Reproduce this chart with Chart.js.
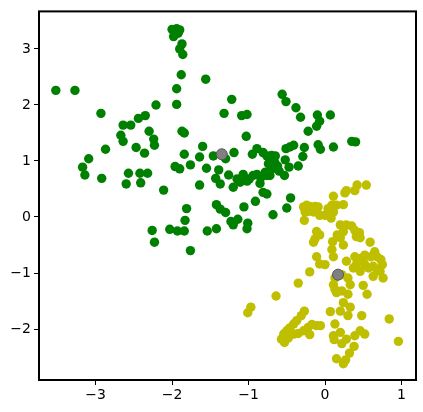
<!DOCTYPE html>
<html>
<head>
<meta charset="utf-8">
<script src="https://cdn.jsdelivr.net/npm/chart.js@4"></script>
<style>
  html, body { margin: 0; padding: 0; background: #fff; }
  #wrap { width: 423px; height: 412px; }
</style>
</head>
<body>
<div id="wrap"><canvas id="myChart" width="423" height="412"></canvas></div>
<script>
const greenX = [-2.00, -1.94, -1.90, -1.98, -1.92, -1.96, -1.87, -1.90, -1.86, -1.88, -1.56, -3.52, -3.27, -1.94, -1.94,
  -2.21, -2.93, -1.22, -1.32, -1.09, -1.02, -0.56, -0.51, -0.38, -0.32, -0.10, 0.07, -0.07, -0.11, -0.22,
  -2.64, -2.54, -2.44, -2.35, -2.67, -2.64, -2.30, -2.24, -2.23, -2.47, -2.36, -2.87, -3.09, -3.17, -3.14,
  -2.92, -2.57, -2.60, -2.42, -2.32, -2.41, -2.11, -1.87, -1.84, -1.84, -1.96, -1.90, -1.76, -1.64, -1.64,
  -1.60, -1.55, -1.46, -1.03, -1.19, -1.39, -1.43, -1.37, -1.30, -1.26, -1.20, -1.11, -1.07, -0.99, -0.94,
  -0.89, -0.95, -0.89, -0.81, -0.76, -0.72, -0.68, -0.70, -0.72, -0.76, -0.65, -0.62, -0.52, -0.51, -0.46,
  -0.41, -0.47, -0.53, -0.35, -0.29, -0.27, -0.09, -0.06, 0.11, 0.35, 0.40, -0.45, -0.50, -0.68, -0.81,
  -0.76, -0.91, -1.06, -1.42, -1.37, -1.30, -1.23, -1.20, -1.14, -1.01, -1.02, -1.42, -1.54, -1.81, -1.83,
  -2.03, -1.93, -1.84, -1.76, -2.26, -2.23, -0.84, -0.78, -0.74, -0.70, -0.66, -0.60, -1.02, -0.85, -1.15];
const greenY = [3.35, 3.36, 3.34, 3.22, 3.28, 3.30, 3.09, 3.00, 2.90, 2.54, 2.46, 2.26, 2.26, 2.29, 2.01,
  2.00, 1.85, 2.10, 1.85, 1.81, 1.83, 2.19, 2.06, 1.95, 1.78, 1.82, 1.82, 1.71, 1.62, 1.53,
  1.64, 1.64, 1.76, 1.81, 1.46, 1.35, 1.53, 1.39, 1.28, 1.24, 1.14, 1.21, 1.04, 0.89, 0.75,
  0.69, 0.78, 0.59, 0.78, 0.78, 0.61, 0.48, 1.53, 1.50, 1.12, 0.90, 0.86, 0.93, 0.57, 1.07,
  1.26, 0.87, 1.09, 1.44, 1.15, 0.84, 0.69, 0.59, 1.04, 0.75, 0.53, 0.62, 0.76, 0.68, 0.74,
  0.76, 1.12, 1.22, 1.15, 1.09, 1.03, 0.97, 0.85, 0.74, 0.74, 1.09, 0.91, 1.02, 1.22, 1.25,
  1.28, 0.89, 0.74, 0.91, 1.08, 1.24, 1.29, 1.21, 1.25, 1.35, 1.34, 0.34, 0.16, 0.04, 0.44,
  0.41, 0.28, 0.18, 0.22, 0.14, 0.08, -0.08, -0.14, -0.04, -0.11, -0.21, -0.21, -0.25, 0.15, -0.06,
  -0.22, -0.25, -0.25, -0.60, -0.24, -0.45, 0.70, 0.80, 0.95, 1.10, 0.98, 0.82, 0.64, 0.60, 0.68];

const yellowX = [0.54, 0.42, 0.39, 0.28, 0.26, 0.11, 0.24, 0.15, 0.09, 0.04, 0.11, -0.28, -0.24, -0.20, -0.13,
  -0.09, -0.26, -0.22, -0.15, -0.07, 0.00, 0.08, -0.27, 0.20, 0.28, 0.35, 0.39, 0.45, 0.41, 0.46,
  0.59, 0.24, 0.16, 0.20, 0.10, 0.09, 0.24, -0.11, -0.07, -0.13, -0.15, 0.11, -0.11, -0.07, 0.00,
  0.28, 0.39, 0.46, 0.52, 0.60, 0.65, 0.68, 0.73, 0.75, 0.76, 0.72, 0.41, 0.46, 0.52, 0.57,
  0.63, 0.68, 0.37, 0.50, 0.63, -0.20, 0.13, 0.22, 0.30, 0.33, 0.11, 0.13, 0.15, 0.22, 0.30,
  0.50, 0.55, -0.35, -0.64, -0.97, -1.01, 0.24, 0.33, 0.20, 0.07, 0.30, 0.48, 0.84, -0.27, -0.31,
  -0.37, -0.41, -0.46, -0.50, -0.54, -0.57, -0.53, -0.48, -0.41, -0.35, -0.28, -0.22, -0.17, -0.11, -0.06,
  -0.20, 0.13, 0.11, 0.12, 0.20, 0.28, 0.22, 0.39, 0.46, 0.52, 0.38, 0.32, 0.27, 0.24, 0.15, 0.96];
const yellowY = [0.57, 0.57, 0.47, 0.47, 0.43, 0.37, 0.22, 0.21, 0.21, 0.15, 0.09, 0.18, 0.21, 0.19, 0.19,
  0.18, 0.09, 0.10, 0.09, 0.03, 0.03, -0.02, -0.06, -0.14, -0.14, -0.16, -0.24, -0.28, -0.35, -0.37,
  -0.45, -0.26, -0.32, -0.37, -0.44, -0.58, -0.50, -0.26, -0.32, -0.39, -0.45, -0.71, -0.71, -0.84, -0.85,
  -0.79, -0.71, -0.74, -0.68, -0.71, -0.62, -0.71, -0.76, -0.85, -1.09, -0.97, -0.85, -0.97, -0.85, -0.91,
  -0.88, -0.94, -0.91, -0.79, -1.06, -0.98, -1.09, -1.03, -1.09, -1.21, -1.21, -1.29, -1.35, -1.32, -1.38,
  -1.22, -1.38, -1.18, -1.41, -1.61, -1.71, -1.53, -1.61, -1.68, -1.69, -1.76, -1.76, -1.82, -1.68, -1.76,
  -1.85, -1.91, -1.98, -2.03, -2.09, -2.18, -2.24, -2.16, -2.09, -2.08, -2.03, -1.97, -1.92, -1.94, -1.94,
  -2.10, -1.91, -2.12, -2.19, -2.06, -2.18, -2.26, -2.12, -2.03, -2.09, -2.31, -2.43, -2.55, -2.62, -2.53, -2.22];

const centerX = [-1.35, 0.17];
const centerY = [1.12, -1.03];

const xTicks = [-3, -2, -1, 0, 1];
const yTicks = [-2, -1, 0, 1, 2, 3];

function pairs(xs, ys) {
  return xs.map((x, i) => ({ x: x, y: ys[i] }));
}

function fmt(v) {
  return v < 0 ? "\u2212" + Math.abs(v) : String(v);
}

// matplotlib style box round the plot area
const frame = {
  id: "frame",
  afterDraw(chart) {
    const a = chart.chartArea;
    const ctx = chart.ctx;
    ctx.save();
    ctx.strokeStyle = "#000";
    ctx.lineWidth = 2;
    ctx.strokeRect(a.left, a.top, a.right - a.left, a.bottom - a.top);
    ctx.restore();
  }
};

const data = {
  datasets: [
    {
      label: "centers",
      data: pairs(centerX, centerY),
      backgroundColor: "#808080",
      borderColor: "#555555",
      borderWidth: 1,
      pointRadius: 5.5,
    },
    {
      label: "cluster 0",
      data: pairs(yellowX, yellowY),
      backgroundColor: "#bfbf00",
      borderColor: "#bfbf00",
      borderWidth: 0,
      pointRadius: 4.7,
    },
    {
      label: "cluster 1",
      data: pairs(greenX, greenY),
      backgroundColor: "#008000",
      borderColor: "#008000",
      borderWidth: 0,
      pointRadius: 4.7,
    },
  ],
};

const tickFont = { family: "DejaVu Sans", size: 14 };

const options = {
  responsive: false,
  animation: false,
  layout: { padding: { top: 7, right: 7, left: 0, bottom: 0 } },
  plugins: {
    legend: { display: false },
    tooltip: { enabled: false },
  },
  scales: {
    x: {
      type: "linear",
      min: -3.74,
      max: 1.19,
      afterFit: (s) => { s.height = 32; },
      afterBuildTicks: (s) => { s.ticks = xTicks.map((v) => ({ value: v })); },
      grid: { drawOnChartArea: false, tickLength: 5, tickColor: "#000", tickWidth: 1 },
      border: { display: false },
      ticks: { color: "#000", font: tickFont, padding: 2, callback: (v) => fmt(v), maxRotation: 0 },
    },
    y: {
      type: "linear",
      min: -2.91,
      max: 3.67,
      afterFit: (s) => { s.width = 39; },
      afterBuildTicks: (s) => { s.ticks = yTicks.map((v) => ({ value: v })); },
      grid: { drawOnChartArea: false, tickLength: 5, tickColor: "#000", tickWidth: 1 },
      border: { display: false },
      ticks: { color: "#000", font: tickFont, padding: 3, callback: (v) => fmt(v) },
    },
  },
};

const config = {
  type: "scatter",
  data: data,
  options,
  plugins: [frame],
};

const myChart = new Chart(document.getElementById("myChart"), config);
</script>
</body>
</html>
